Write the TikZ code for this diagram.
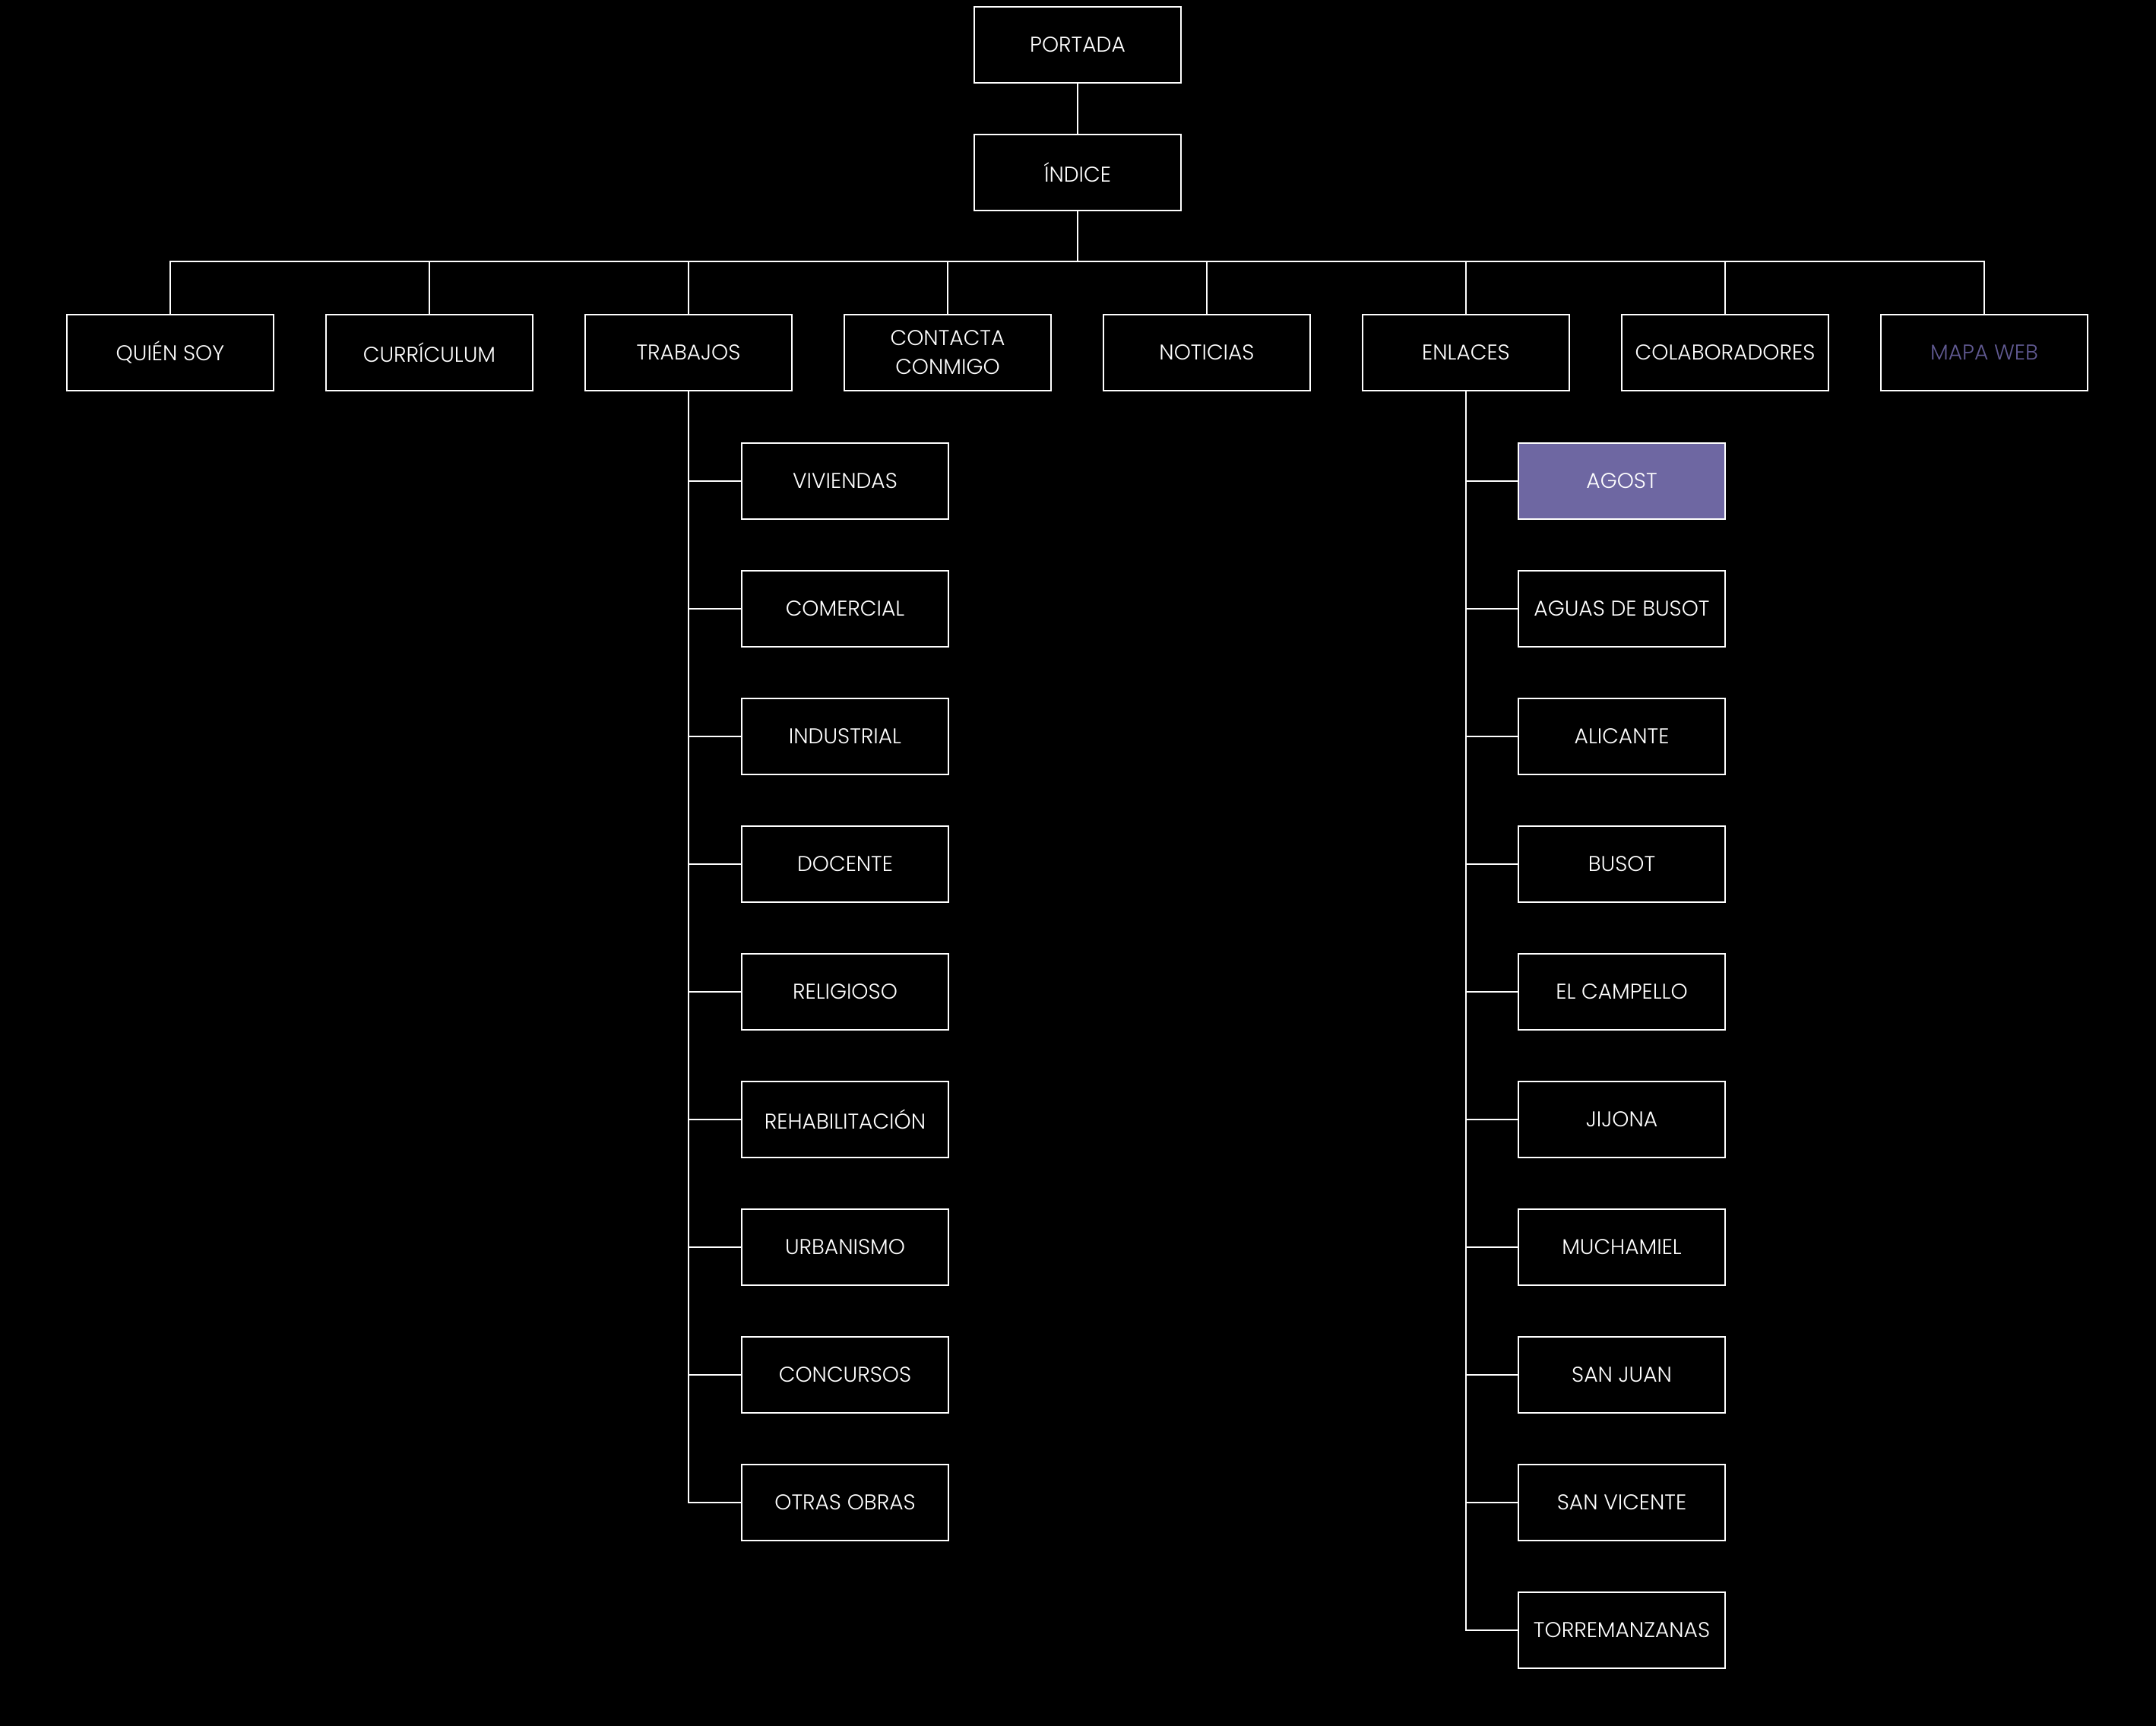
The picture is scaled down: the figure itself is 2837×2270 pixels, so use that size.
\documentclass[tikz,border=0pt]{standalone}
\usepackage{fontspec}
\setmainfont{Poppins Light}
\definecolor{agostfill}{RGB}{110,103,162}
\definecolor{mapatext}{RGB}{96,89,145}
\begin{document}
\begin{tikzpicture}[x=0.01cm,y=-0.01cm,
  box/.style={draw=white,line width=0.55pt,fill=black,text=white,minimum width=2.71cm,minimum height=1.0cm,inner sep=0pt,align=center,font=\fontsize{8}{10.8}\selectfont},
  conn/.style={draw=white,line width=0.55pt}]
\useasboundingbox (0,0) rectangle (2837,2270);
\fill[black] (-20,-20) rectangle (2857,2290);
\node[box] (portada) at (1418,59) {PORTADA};
\node[box] (indice) at (1418,227) {ÍNDICE};
\coordinate (bus) at (1418,344);
\node[box] (quien) at (224,464) {QUIÉN SOY};
\node[box] (curr) at (565,464) {CURRÍCULUM};
\node[box] (trab) at (906,464) {TRABAJOS};
\node[box] (cont) at (1247,464) {CONTACTA\\CONMIGO};
\node[box] (noti) at (1588,464) {NOTICIAS};
\node[box] (enl) at (1929,464) {ENLACES};
\node[box] (colab) at (2270,464) {COLABORADORES};
\node[box,text=mapatext] (mapa) at (2611,464) {MAPA WEB};
% trabajos children
\node[box] (t1) at (1112,633) {VIVIENDAS};
\node[box] (t2) at (1112,801) {COMERCIAL};
\node[box] (t3) at (1112,969) {INDUSTRIAL};
\node[box] (t4) at (1112,1137) {DOCENTE};
\node[box] (t5) at (1112,1305) {RELIGIOSO};
\node[box] (t6) at (1112,1473) {REHABILITACIÓN};
\node[box] (t7) at (1112,1641) {URBANISMO};
\node[box] (t8) at (1112,1809) {CONCURSOS};
\node[box] (t9) at (1112,1977) {OTRAS OBRAS};
% enlaces children
\node[box,fill=agostfill] (e1) at (2134,633) {AGOST};
\node[box] (e2) at (2134,801) {AGUAS DE BUSOT};
\node[box] (e3) at (2134,969) {ALICANTE};
\node[box] (e4) at (2134,1137) {BUSOT};
\node[box] (e5) at (2134,1305) {EL CAMPELLO};
\node[box] (e6) at (2134,1473) {JIJONA};
\node[box] (e7) at (2134,1641) {MUCHAMIEL};
\node[box] (e8) at (2134,1809) {SAN JUAN};
\node[box] (e9) at (2134,1977) {SAN VICENTE};
\node[box] (e10) at (2134,2145) {TORREMANZANAS};
% connectors
\draw[conn] (portada) -- (indice);
\draw[conn] (indice.south) -- (bus);
\foreach \n in {quien,curr,trab,cont,noti,enl,colab,mapa}
  \draw[conn] (bus) -| (\n.north);
\foreach \n in {t1,t2,t3,t4,t5,t6,t7,t8,t9}
  \draw[conn] (trab.south) |- (\n.west);
\foreach \n in {e1,e2,e3,e4,e5,e6,e7,e8,e9,e10}
  \draw[conn] (enl.south) |- (\n.west);
\end{tikzpicture}
\end{document}
